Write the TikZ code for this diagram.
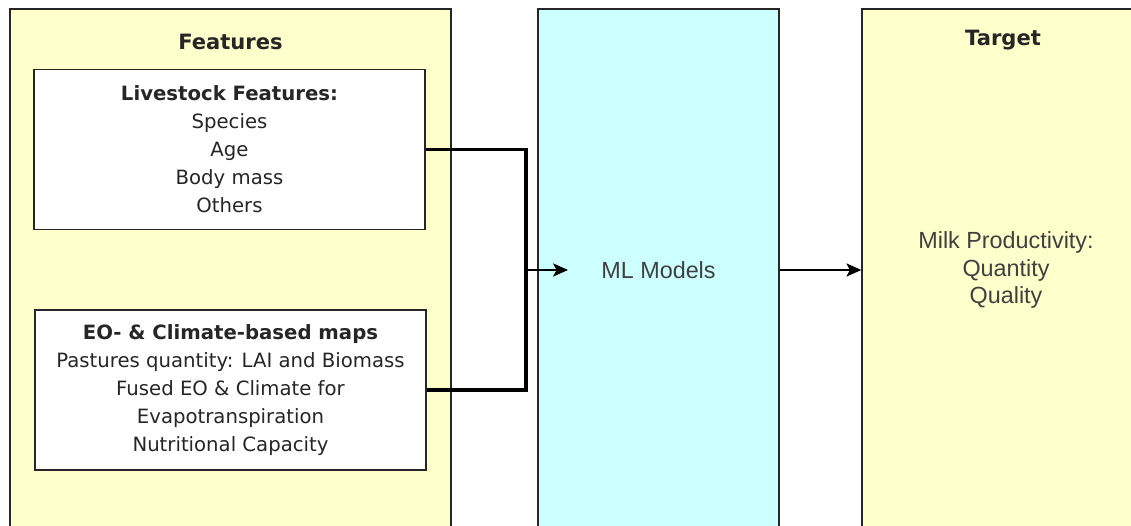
\documentclass[tikz,border=0pt]{standalone}
\usepackage{fontspec}
\setmainfont{DejaVu Sans}
\newfontfamily\arialfont{Liberation Sans}
\usetikzlibrary{arrows.meta,positioning}
\definecolor{panelyellow}{HTML}{FFFFCC}
\definecolor{modelcyan}{HTML}{CCFFFF}
\tikzset{
  panel/.style={ % tall background column
    draw=black!85, thick, rectangle,
    minimum height=10.44cm, inner sep=0pt
  },
  featbox/.style={ % white box listing one feature group
    draw=black!85, thick, rectangle, fill=white,
    minimum width=7.82cm, minimum height=3.2cm,
    align=center, text=black!85, inner sep=2pt,
    font=\fontsize{11.2}{15.9}\selectfont
  },
  title/.style={ % column heading
    font=\fontsize{12}{14}\selectfont\bfseries, text=black!85
  },
  arialtext/.style={
    font=\arialfont\fontsize{13.3}{15.9}\selectfont,
    text=black!75, align=center
  }
}

\begin{document}
\begin{tikzpicture}[x=0.02cm, y=-0.02cm,
    >={Stealth[length=8.5pt, width=7.5pt, inset=2pt]}]
  \useasboundingbox (0,0) rectangle (1131,526);
  \clip (0,0) rectangle (1131,526);

  % columns
  \node[panel, fill=panelyellow, minimum width=8.82cm] (features) at (230.5,270) {};
  \node[panel, fill=modelcyan, minimum width=4.82cm, arialtext] (ml) at (658.5,270) {ML Models};
  \node[panel, fill=panelyellow, minimum width=5.76cm, arialtext] (target) at (1006,270)
    {Milk Productivity:\\Quantity\\Quality};
  \node[title] (features_title) at (230.5,42) {Features};
  \node[title] (target_title) at (1003,40) {Target};

  % feature groups
  \node[featbox] (livestock) at (229.5,149.5)
    {\textbf{Livestock Features:}\\Species\\Age\\Body mass\\Others};
  \node[featbox] (eo_maps) at (230.5,390)
    {\textbf{EO- \& Climate-based maps}\\Pastures quantity: LAI and Biomass\\Fused EO \& Climate for\\Evapotranspiration\\Nutritional Capacity};

  \coordinate (join) at (526,270);
  \coordinate (ml_in) at (568,270);
  \draw[line width=2pt] (livestock.east) -| (join) |- (eo_maps.east);
  \draw[->, thick] (join) -- (ml_in);
  \draw[->, thick] (ml) -- (target);
\end{tikzpicture}
\end{document}
